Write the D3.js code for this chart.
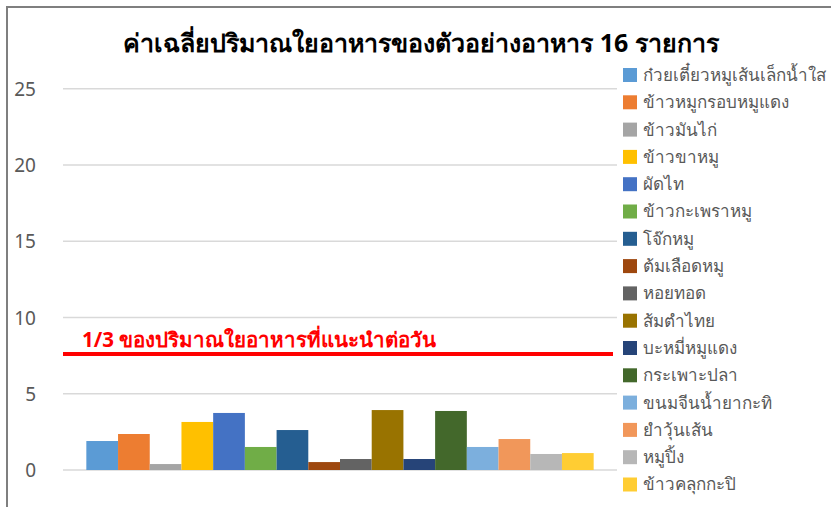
<!DOCTYPE html>
<html>
<head>
<meta charset="utf-8">
<script src="https://cdn.jsdelivr.net/npm/d3@7"></script>
<style>
  html, body { margin: 0; padding: 0; background: #fff; }
  svg { display: block; font-family: "Noto Sans", "DejaVu Sans", sans-serif; }
</style>
</head>
<body>
<svg id="chart" width="831" height="507"></svg>
<script>
const title = "ค่าเฉลี่ยปริมาณใยอาหารของตัวอย่างอาหาร 16 รายการ";
const categories = [
  "ก๋วยเตี๋ยวหมูเส้นเล็กน้ำใส","ข้าวหมูกรอบหมูแดง","ข้าวมันไก่","ข้าวขาหมู",
  "ผัดไท","ข้าวกะเพราหมู","โจ๊กหมู","ต้มเลือดหมู","หอยทอด","ส้มตำไทย",
  "บะหมี่หมูแดง","กระเพาะปลา","ขนมจีนน้ำยากะทิ","ยำวุ้นเส้น","หมูปิ้ง","ข้าวคลุกกะปิ"
];
const values = [1.9, 2.36, 0.39, 3.15, 3.74, 1.51, 2.62, 0.52, 0.72, 3.93, 0.72, 3.87, 1.51, 2.03, 1.05, 1.11];
const colors = ["#5b9bd5","#ed7d31","#a5a5a5","#ffc000","#4472c4","#70ad47","#255e91","#9e480e",
                "#636363","#997300","#264478","#43682b","#7cafdd","#f1975a","#b7b7b7","#ffcd33"];
const yTicks = [0, 5, 10, 15, 20, 25];
const refValue = 7.6;
const refLabel = "1/3 ของปริมาณใยอาหารที่แนะนำต่อวัน";

const svg = d3.select("#chart");

// frame
svg.append("path").attr("d", "M7,507 L7,7 L831,7").attr("fill", "none")
  .attr("stroke", "#7f7f7f").attr("stroke-width", 2);

const plot = { left: 63, right: 617, top: 88.7, bottom: 470 };
const y = d3.scaleLinear().domain([0, 25]).range([plot.bottom, plot.top]);
const xGroup = d3.scaleBand().domain(["all"]).range([plot.left, plot.right]).paddingInner(0).paddingOuter(0.046);
const x = d3.scaleBand().domain(d3.range(categories.length)).range([xGroup("all"), xGroup("all") + xGroup.bandwidth()]).padding(0);

// gridlines
svg.append("g").selectAll("line").data(yTicks).join("line")
  .attr("x1", plot.left).attr("x2", plot.right)
  .attr("y1", d => y(d)).attr("y2", d => y(d))
  .attr("stroke", "#d9d9d9").attr("stroke-width", 1.5);

// y axis labels
const yAxis = d3.axisLeft(y).tickValues(yTicks).tickSize(0).tickPadding(0);
const ya = svg.append("g").attr("transform", "translate(36,0)").call(yAxis);
ya.select(".domain").remove();
ya.selectAll("text").attr("fill", "#595959").style("font-size", "19px")
  .style("font-family", "'Noto Sans', 'DejaVu Sans', sans-serif").attr("dy", "0.35em");

// bars
svg.append("g").selectAll("rect").data(values).join("rect")
  .attr("x", (d, i) => x(i)).attr("width", x.bandwidth())
  .attr("y", d => y(d)).attr("height", d => y(0) - y(d))
  .attr("fill", (d, i) => colors[i]);

// reference line
svg.append("line").attr("x1", plot.left).attr("x2", 613)
  .attr("y1", y(refValue)).attr("y2", y(refValue))
  .attr("stroke", "#ff0000").attr("stroke-width", 4);
svg.append("text").attr("x", 82).attr("y", y(refValue) - 7)
  .attr("fill", "#ff0000").style("font-size", "20.5px").style("font-weight", "bold")
  .text(refLabel);

// title
svg.append("text").attr("x", 421).attr("y", 52).attr("text-anchor", "middle")
  .attr("fill", "#000").style("font-size", "25px").style("font-weight", "bold")
  .text(title);

// legend
const lg = svg.append("g").attr("transform", "translate(623,75)");
const items = lg.selectAll("g").data(categories).join("g")
  .attr("transform", (d, i) => `translate(0,${i * 27.3})`);
items.append("rect").attr("x", 0).attr("y", -7).attr("width", 14).attr("height", 14)
  .attr("fill", (d, i) => colors[i]);
items.append("text").attr("x", 20).attr("y", 0).attr("dy", "0.35em")
  .attr("fill", "#595959").style("font-size", "17px").text(d => d);
</script>
</body>
</html>
